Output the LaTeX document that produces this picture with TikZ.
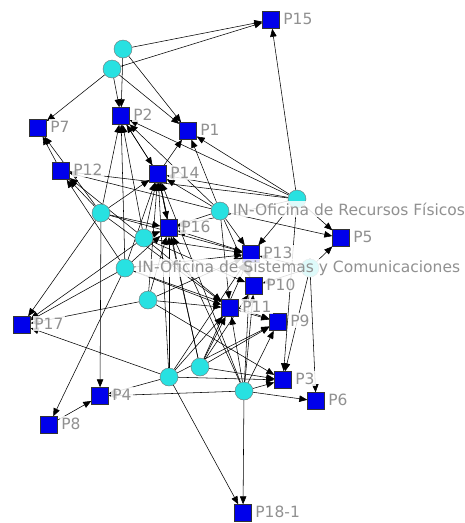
\documentclass[tikz,border=0pt]{standalone}
\usepackage{fontspec}
\setmainfont{DejaVu Sans}
\usetikzlibrary{arrows.meta}
\pgfdeclarelayer{edges}
\pgfdeclarelayer{labels}
\pgfsetlayers{edges,main,labels}
\definecolor{sqblue}{RGB}{0,0,235}
\definecolor{cyanfill}{RGB}{40,225,225}
\definecolor{labgray}{RGB}{145,145,145}
\begin{document}
\begin{tikzpicture}[x=1pt,y=-1pt,
  sq/.style={draw=black!80, line width=0.4pt, fill=sqblue, minimum size=17pt, inner sep=0pt},
  ci/.style={circle, draw=black!55, line width=0.4pt, fill=cyanfill, minimum size=18pt, inner sep=0pt},
  lab/.style={text=labgray, font=\fontsize{15.5}{15.5}\selectfont, inner sep=1.5pt, fill=white, fill opacity=0.85, text opacity=1, anchor=base west},
  ed/.style={draw=black, line width=0.55pt, -{Triangle[length=8pt,width=6.5pt]}}
]
\useasboundingbox (0,0) rectangle (464,523);
% square nodes
\node[sq] (P15) at (271,20) {};
\node[sq] (P7) at (38,128) {};
\node[sq] (P2) at (121,116) {};
\node[sq] (P1) at (188,131) {};
\node[sq] (P12) at (61,171) {};
\node[sq] (P14) at (158,174) {};
\node[sq] (P16) at (169,228) {};
\node[sq] (P13) at (251,254) {};
\node[sq] (P5) at (341,238) {};
\node[sq] (P10) at (254,286) {};
\node[sq] (P11) at (230,308) {};
\node[sq] (P9) at (278,322) {};
\node[sq] (P17) at (22,325) {};
\node[sq] (P3) at (283,380) {};
\node[sq] (P6) at (316,401) {};
\node[sq] (P4) at (100,396) {};
\node[sq] (P8) at (49,425) {};
\node[sq] (P18) at (243,513) {};
% circle nodes
\node[ci] (a1) at (123,49) {};
\node[ci] (a2) at (112,69) {};
\node[ci] (a3) at (101,213) {};
\node[ci] (a4) at (144,238) {};
\node[ci] (a5) at (125,268) {};
\node[ci] (a6) at (148,300) {};
\node[ci] (a7) at (220,211) {};
\node[ci] (a8) at (297,199) {};
\node[ci] (a9) at (310,268) {};
\node[ci] (a10) at (169,377) {};
\node[ci] (a11) at (200,367) {};
\node[ci] (a12) at (244,391) {};
% edges
\begin{pgfonlayer}{edges}
\fill[white] (0,0) rectangle (464,523);
\foreach \s/\t in {
  a1/P15, a1/P2, a1/P1,
  a2/P15, a2/P2, a2/P7, a2/P1,
  a3/P12, a3/P7, a3/P2, a3/P14, a3/P17, a3/P4, a3/P13, a3/P11, a3/P16,
  a4/P12, a4/P14, a4/P2, a4/P16, a4/P13, a4/P11, a4/P10, a4/P17,
  a5/P12, a5/P2, a5/P14, a5/P16, a5/P8, a5/P17, a5/P11, a5/P9, a5/P13,
  a6/P17, a6/P16, a6/P14, a6/P11, a6/P3, a6/P13,
  a7/P14, a7/P2, a7/P1, a7/P13, a7/P11, a7/P10, a7/P16, a7/P5, a7/P12,
  a8/P15, a8/P1, a8/P2, a8/P14, a8/P16, a8/P13, a8/P12, a8/P5, a8/P3,
  a9/P6, a9/P3, a9/P13, a9/P10, a9/P5,
  a10/P16, a10/P11, a10/P13, a10/P4, a10/P17, a10/P18, a10/P3, a10/P9, a10/P14,
  a11/P11, a11/P16, a11/P10, a11/P9, a11/P3, a11/P14, a11/P13,
  a12/P11, a12/P18, a12/P6, a12/P3, a12/P9, a12/P13, a12/P4, a12/P16, a12/P10, a12/P14,
  P14/P2, P2/P14, P16/P14, P14/P16, P14/P1, P12/P7, P8/P4, P11/P9, P13/P16}
  \draw[ed] (\s) -- (\t);
\end{pgfonlayer}
% labels
\begin{pgfonlayer}{labels}
\foreach \n/\t in {P15/P15, P7/P7, P2/P2, P1/P1, P12/P12, P14/P14, P16/P16, P13/P13, P5/P5, P10/P10, P11/P11, P9/P9, P17/P17, P3/P3, P6/P6, P4/P4, P8/P8, P18/P18-1}
  \node[lab] (t\n) at ([xshift=2pt,yshift=-4pt]\n.east) {\t};
\node[lab] (ta7) at ([xshift=2pt,yshift=-4pt]a7.east) {IN-Oficina de Recursos Físicos};
\node[lab] (ta5) at ([xshift=2pt,yshift=-4pt]a5.east) {IN-Oficina de Sistemas y Comunicaciones};
\end{pgfonlayer}
\end{tikzpicture}
\end{document}
